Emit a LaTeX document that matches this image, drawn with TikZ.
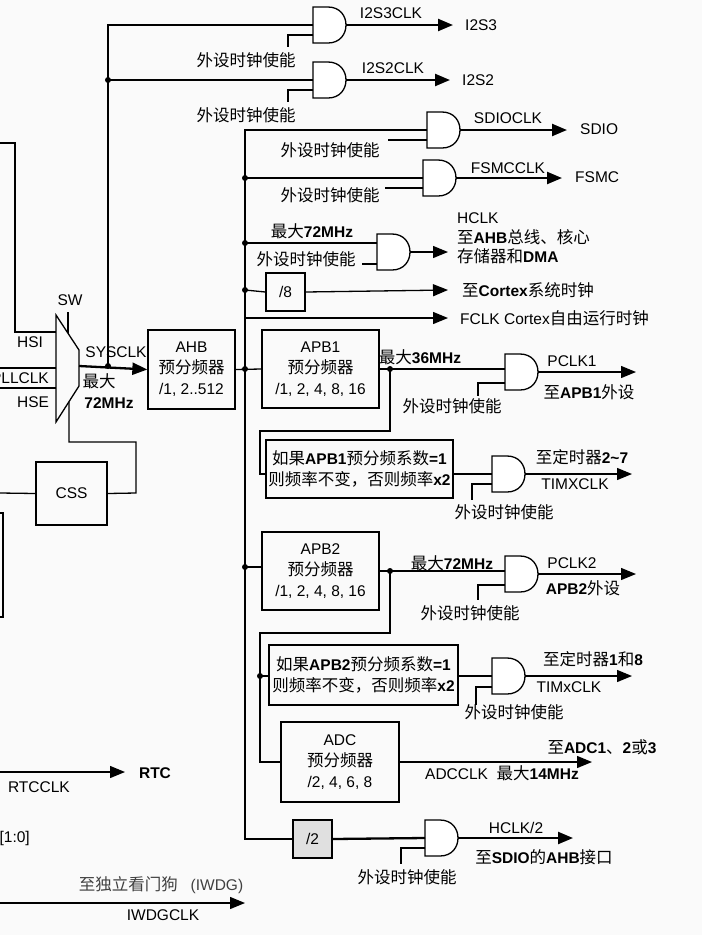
\documentclass[tikz,border=0pt]{standalone}
\usepackage{fontspec}
\setmainfont{Liberation Sans}
\newfontfamily\cjkf{Noto Sans CJK SC}
\newcommand\zh[1]{{\cjkf\fontsize{16.5}{19}\selectfont #1}}
\usetikzlibrary{arrows.meta}
\begin{document}
\begin{tikzpicture}[x=1pt,y=-1pt,
 thk/.style={line width=2.3pt},
 thn/.style={line width=1.3pt},
 arr/.style={-{Triangle[length=15pt,width=12pt]}},
 lbl/.style={font=\fontsize{15.5}{18}\selectfont, inner sep=0pt},
 box/.style={draw, line width=1.3pt, align=center, inner sep=0pt, font=\fontsize{15.5}{21}\selectfont},
 dot/.style={circle,fill,inner sep=0pt,minimum size=6pt}]
\newcommand\andg[3]{\draw[thn,fill=white] (#2,#3-18) -- (#2+15,#3-18) .. controls (#2+39,#3-18) and (#2+39,#3+18) .. (#2+15,#3+18) -- (#2,#3+18) -- cycle; \coordinate (#1) at (#2,#3); \coordinate (#1o) at (#2+33,#3);}
\useasboundingbox (0,0) rectangle (702,935);
\fill[black!2] (0,0) rectangle (702,935);
% ---- gates
\andg{g1}{313}{25}
\andg{g2}{313}{80}
\andg{g3}{427}{130}
\andg{g4}{423}{178}
\andg{g5}{377}{252}
\andg{g6}{505}{372}
\andg{g7}{492}{474}
\andg{g8}{505}{574}
\andg{g9}{492}{676}
\andg{g10}{425}{838}
% ---- boxes
\node[box,minimum width=87,minimum height=79] (ahb) at (191.5,369.5) {AHB\\\zh{预分频器}\\/1, 2..512};
\node[box,minimum width=117,minimum height=78] (apb1) at (320.5,369) {APB1\\\zh{预分频器}\\/1, 2, 4, 8, 16};
\node[box,minimum width=117,minimum height=78] (apb2) at (320.5,571) {APB2\\\zh{预分频器}\\/1, 2, 4, 8, 16};
\node[box,minimum width=187,minimum height=58] (tb1) at (359.5,469) {\zh{如果}\textbf{APB1}\zh{预分频系数}\textbf{=1}\\\zh{则频率不变，否则频率}\textbf{x2}};
\node[box,minimum width=189,minimum height=60] (tb2) at (363.5,675) {\zh{如果}\textbf{APB2}\zh{预分频系数}\textbf{=1}\\\zh{则频率不变，否则频率}\textbf{x2}};
\node[box,minimum width=118,minimum height=80] (adc) at (340,762) {ADC\\\zh{预分频器}\\/2, 4, 6, 8};
\node[box,minimum width=39,minimum height=38] (d8) at (285.5,292) {/8};
\node[box,line width=2.3pt,fill=black!12,minimum width=39,minimum height=38] (d2) at (312.5,839) {/2};
\node[box,minimum width=71,minimum height=63] (css) at (71.5,493.5) {CSS};
% ---- mux
\draw[thn] (56,315)--(79,350)--(79,386)--(56,422)--cycle;
\coordinate (sw) at (68,333);
\draw[thn] (68,312) -- (sw);
\node[lbl] (swl) at (70,300) {SW};
\draw[thn] (0,143)--(15,143)--(15,332)--(56,332);
\node[lbl] (hsi) at (30,342) {HSI};
\draw[thn] (0,368)--(56,368);
\node[lbl,anchor=east] (pll) at (49,378) {PLLCLK};
\draw[thn] (0,388)--(56,388);
\node[lbl] (hse) at (33,402) {HSE};
\draw[thn] (0,493)--(css.west);
\draw[thn] (css.east)--(136,493)--(136,442)--(69,442)--(69,402);
\draw[thn] (0,513)--(3,513)--(3,617)--(0,617);
% ---- sysclk
\draw[thk,arr] (79,366) -- (ahb.west);
\node[lbl] (sys) at (116,352) {SYSCLK};
\node[lbl] (m1) at (99,381) {\zh{最大}};
\node[lbl] (m2) at (109,403) {\textbf{72MHz}};
\draw[thk] (108,366) -- (108,25) -- (g1);
\draw[thk] (108,80) -- (g2);
\node[dot] at (108,80) {}; \node[dot] at (108,366) {};
\draw[thn] (313,35) -- (288,35) -- (288,47);
\node[lbl] (e1) at (246,60) {\zh{外设时钟使能}};
\draw[thn] (313,90) -- (288,90) -- (288,102);
\node[lbl] (e2) at (246,115) {\zh{外设时钟使能}};
\draw[thk,arr] (g1o) -- (453,25);
\node[lbl] at (391,13) {I2S3CLK};
\node[lbl,anchor=west] at (465,25) {I2S3};
\draw[thk,arr] (g2o) -- (450,80);
\node[lbl] at (393,68) {I2S2CLK};
\node[lbl,anchor=west] at (462,80) {I2S2};
% ---- bus
\draw[thk] (427,130) -- (245,130) -- (245,839) -- (d2.west);
\draw[thk] (245,178) -- (g4);
\foreach \yy in {178,243,290,369,567} \node[dot] at (245,\yy) {};
\draw[thn] (427,140) -- (388,140);
\node[lbl] at (330,150) {\zh{外设时钟使能}};
\draw[thn] (423,188) -- (385,188);
\node[lbl] at (330,195) {\zh{外设时钟使能}};
\draw[thk,arr] (g3o) -- (567,130);
\node[lbl] at (508,118) {SDIOCLK};
\node[lbl,anchor=west] at (580,129) {SDIO};
\draw[thk,arr] (g4o) -- (562,178);
\node[lbl] at (508,168) {FSMCCLK};
\node[lbl,anchor=west] at (575,177) {FSMC};
% HCLK
\draw[thn] (245,243) -- (377,243);
\draw[thn] (362,264) -- (377,264);
\node[lbl] at (312,231) {\zh{最大}\textbf{72MHz}};
\node[lbl] at (306,259) {\zh{外设时钟使能}};
\draw[thn,arr] (g5o) -- (448,252);
\node[lbl,anchor=west] at (457,218) {HCLK};
\node[lbl,anchor=west] at (457,237) {\zh{至}\textbf{AHB}\zh{总线、核心}};
\node[lbl,anchor=west] at (457,256) {\zh{存储器和}\textbf{DMA}};
% /8 and FCLK
\draw[thn] (245,290) -- (d8.west);
\draw[thn,arr] (d8.east) -- (448,290);
\node[lbl,anchor=west] at (462,290) {\zh{至}\textbf{Cortex}\zh{系统时钟}};
\draw[thn,arr] (245,318) -- (448,318);
\node[lbl,anchor=west] at (460,318) {FCLK Cortex\zh{自由运行时钟}};
% AHB out
\draw[thn] (ahb.east) -- (apb1.west);
% APB1
\draw[thn] (apb1.east |- 0,369) -- (505,369);
\node[dot] at (390,369) {};
\node[lbl] at (420,357) {\zh{最大}\textbf{36MHz}};
\draw[thn] (505,383) -- (478,383) -- (478,396);
\node[lbl] at (452,406) {\zh{外设时钟使能}};
\draw[thn,arr] (g6o) -- (636,372);
\node[lbl] at (572,361) {PCLK1};
\node[lbl] at (589,392) {\zh{至}\textbf{APB1}\zh{外设}};
\draw[thn] (390,369) -- (390,431) -- (260,431) -- (260,474) -- (tb1.west |- 0,474);
\draw[thn] (tb1.east |- 0,474) -- (g7);
\draw[thn] (492,484) -- (472,484) -- (472,500);
\node[lbl] at (504,512) {\zh{外设时钟使能}};
\draw[thn,arr] (g7o) -- (632,474);
\node[lbl] at (582,457) {\zh{至定时器}\textbf{2\textasciitilde7}};
\node[lbl] at (575,484) {TIMXCLK};
% APB2
\draw[thn] (245,567) -- (apb2.west |- 0,567);
\draw[thn] (apb2.east) -- (505,571);
\node[dot] at (390,571) {};
\node[lbl] at (452,563) {\zh{最大}\textbf{72MHz}};
\draw[thn] (505,585) -- (478,585) -- (478,600);
\node[lbl] at (470,613) {\zh{外设时钟使能}};
\draw[thn,arr] (g8o) -- (636,574);
\node[lbl] at (572,563) {PCLK2};
\node[lbl] at (583,588) {\textbf{APB2}\zh{外设}};
\draw[thn] (390,571) -- (390,633) -- (260,633) -- (260,762) -- (adc.west);
\node[dot] at (260,676) {};
\draw[thn] (260,676) -- (tb2.west |- 0,676);
\draw[thn] (tb2.east |- 0,676) -- (g9);
\draw[thn] (492,687) -- (476,687) -- (476,705);
\node[lbl] at (514,712) {\zh{外设时钟使能}};
\draw[thn,arr] (g9o) -- (632,676);
\node[lbl] at (593,659) {\zh{至定时器}\textbf{1}\zh{和}\textbf{8}};
\node[lbl] at (569,687) {TIMxCLK};
% ADC
\draw[thn,arr] (adc.east) -- (592,762);
\node[lbl] at (602,747) {\zh{至}\textbf{ADC1}\zh{、}\textbf{2}\zh{或}\textbf{3}};
\node[lbl] at (502,773) {ADCCLK\ \ \zh{最大}\textbf{14MHz}};
% /2
\draw[thk] (d2.east) -- (g10);
\draw[thk] (425,848) -- (401,848) -- (401,864);
\node[lbl] at (407,877) {\zh{外设时钟使能}};
\draw[thk,arr] (g10o) -- (573,838);
\node[lbl] at (516,828) {HCLK/2};
\node[lbl] at (544,857) {\zh{至}\textbf{SDIO}\zh{的}\textbf{AHB}\zh{接口}};
% left bottom
\draw[thn,arr] (0,772) -- (125,772);
\node[lbl] at (155,773) {\textbf{RTC}};
\node[lbl,anchor=east] at (70,787) {RTCCLK};
\node[lbl,anchor=east] at (30,838) {[1:0]};
\draw[thn,arr] (0,903) -- (245,903);
\node[lbl,text=black!75] at (161,885) {\zh{至独立看门狗}\ \ \ (IWDG)};
\node[lbl] at (163,915) {IWDGCLK};
\end{tikzpicture}
\end{document}
